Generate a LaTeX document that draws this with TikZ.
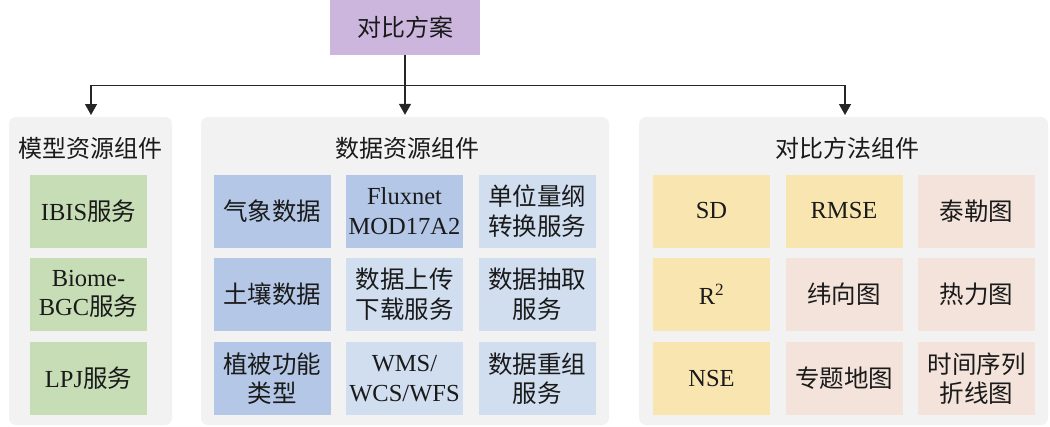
\documentclass[tikz,border=0pt]{standalone}
\usepackage{fontspec}
\setmainfont{Liberation Serif}
\newfontfamily\cjk{Noto Sans CJK SC}
\usetikzlibrary{arrows.meta}
\definecolor{panelgray}{HTML}{F2F2F2}
\definecolor{topviolet}{HTML}{CCB6DE}
\definecolor{mgreen}{HTML}{C6DDB6}
\definecolor{dblue}{HTML}{B4C7E7}
\definecolor{lblue}{HTML}{D0DEEF}
\definecolor{myellow}{HTML}{F8E5B0}
\definecolor{mpink}{HTML}{F3E3DA}
\definecolor{txt}{HTML}{1A1A1A}
\tikzset{
  panel/.style={fill=panelgray, rounded corners=7pt, inner sep=0pt},
  cell/.style={minimum width=117pt, minimum height=73pt, inner sep=0pt, align=center,
    font=\fontsize{24.5}{29.5}\selectfont, text=txt},
  ptitle/.style={font=\fontsize{24}{29}\selectfont\cjk, text=txt, inner sep=0pt},
  link/.style={line width=1.3pt, draw=black!85},
  arr/.style={link, -{Triangle[width=12pt,length=11pt]}, shorten >=2pt}
}
\begin{document}
\begin{tikzpicture}[x=1pt,y=-1pt]
\useasboundingbox (0,0) rectangle (1050,426);
% panels
\node[panel, minimum width=163pt, minimum height=308pt] (lp) at (90.5,271) {};
\node[panel, minimum width=408pt, minimum height=308pt] (mp) at (405,271) {};
\node[panel, minimum width=409pt, minimum height=308pt] (rp) at (843.5,271) {};
% top
\node[fill=topviolet, minimum width=150pt, minimum height=55pt, inner sep=0pt,
  font=\fontsize{24}{29}\selectfont\cjk, text=txt] (top) at (405,27.5) {对比方案};
% titles
\node[ptitle] (lt) at (90.5,148) {模型资源组件};
\node[ptitle] (mt) at (407,148) {数据资源组件};
\node[ptitle] (rt) at (847,148) {对比方法组件};
% left
\node[cell, fill=mgreen] (l1) at (88.5,211) {IBIS{\cjk 服务}};
\node[cell, fill=mgreen] (l2) at (88.5,294) {Biome-\\BGC{\cjk 服务}};
\node[cell, fill=mgreen] (l3) at (88.5,378.5) {LPJ{\cjk 服务}};
% middle
\node[cell, fill=dblue] (m11) at (272,211) {\cjk 气象数据};
\node[cell, fill=dblue] (m12) at (404.5,211) {Fluxnet\\MOD17A2};
\node[cell, fill=lblue] (m13) at (537,211) {\cjk 单位量纲\\\cjk 转换服务};
\node[cell, fill=dblue] (m21) at (272,294) {\cjk 土壤数据};
\node[cell, fill=lblue] (m22) at (404.5,294) {\cjk 数据上传\\\cjk 下载服务};
\node[cell, fill=lblue] (m23) at (537,294) {\cjk 数据抽取\\\cjk 服务};
\node[cell, fill=dblue] (m31) at (272,378.5) {\cjk 植被功能\\\cjk 类型};
\node[cell, fill=lblue] (m32) at (404.5,378.5) {WMS/\\WCS/WFS};
\node[cell, fill=lblue] (m33) at (537,378.5) {\cjk 数据重组\\\cjk 服务};
% right
\node[cell, fill=myellow] (r11) at (711.5,211) {SD};
\node[cell, fill=myellow] (r12) at (844,211) {RMSE};
\node[cell, fill=mpink] (r13) at (976.5,211) {\cjk 泰勒图};
\node[cell, fill=myellow] (r21) at (711.5,294) {R\textsuperscript{2}};
\node[cell, fill=mpink] (r22) at (844,294) {\cjk 纬向图};
\node[cell, fill=mpink] (r23) at (976.5,294) {\cjk 热力图};
\node[cell, fill=myellow] (r31) at (711.5,378.5) {NSE};
\node[cell, fill=mpink] (r32) at (844,378.5) {\cjk 专题地图};
\node[cell, fill=mpink] (r33) at (976.5,378.5) {\cjk 时间序列\\\cjk 折线图};
% connectors
\coordinate (bus) at (405,85.5);
\coordinate (lpn) at (91,117);
\coordinate (rpn) at (845,117);
\draw[arr] (top.south) -- (mp.north);
\draw[arr] (bus) -| (lpn);
\draw[arr] (bus) -| (rpn);
\end{tikzpicture}
\end{document}
